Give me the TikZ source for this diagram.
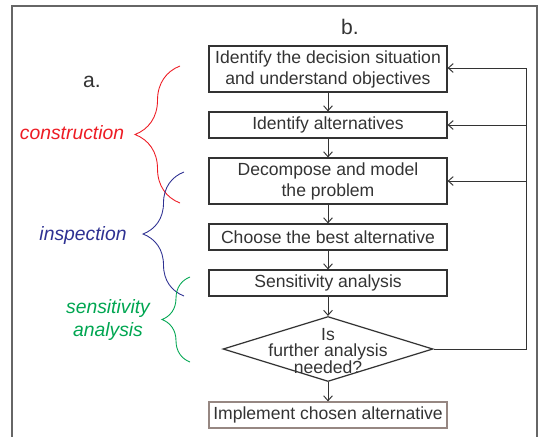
\documentclass[tikz,border=0pt]{standalone}
\usepackage{fontspec}
\setmainfont{Liberation Sans}
\usetikzlibrary{shapes.geometric,arrows.meta,decorations.pathreplacing}
\definecolor{cred}{RGB}{237,28,36}
\definecolor{cblue}{RGB}{46,49,146}
\definecolor{cgreen}{RGB}{0,166,81}
\definecolor{ink}{RGB}{51,51,51}
\definecolor{lastedge}{RGB}{150,135,130}

\begin{document}
\begin{tikzpicture}[x=0.02cm, y=-0.02cm,
    font=\fontsize{10}{12}\selectfont, text=ink,
    >={Straight Barb[length=2.8pt,width=5pt]},
    stepbox/.style={draw=ink, line width=0.7pt, minimum width=4.76cm,
      minimum height=0.52cm, inner sep=1pt, align=center},
    flow/.style={->, draw=ink, line width=0.55pt},
    phase/.style={decorate, line width=0.5pt},
    phasetext/.style={font=\fontsize{11}{13}\selectfont\itshape, align=center}]
      \useasboundingbox (0,0) rectangle (540,436);
      % Frame
      \draw[gray!80!black, line width=0.85pt] (12,440) -- (12,6) -- (537,6) -- (537,440);
      % Steps
      \node[stepbox, minimum height=0.92cm] (decide) at (328,69)
      {Identify the decision situation\\and understand objectives};
      \node[stepbox] (altern) at (328,125) {Identify alternatives};
      \node[stepbox, minimum height=0.92cm] (model) at (328,181)
      {Decompose and model\\the problem};
      \node[stepbox] (choose) at (328,237) {Choose the best alternative};
      \node[stepbox] (sensit) at (328,283) {Sensitivity analysis};
      \node[diamond, draw=ink, line width=0.7pt, inner sep=0pt,
        minimum width=4.2cm, minimum height=1.3cm,
        label={[align=center, font=\fontsize{10}{9.5}\selectfont, yshift=-1pt]center:Is\\further analysis\\needed?}]
      (further) at (328,349) {};
      \node[stepbox, draw=lastedge] (implement) at (328,415)
      {Implement chosen alternative};
      % Arrows down
      \draw[flow] (decide) -- (altern);
      \draw[flow] (altern) -- (model);
      \draw[flow] (model) -- (choose);
      \draw[flow] (choose) -- (sensit);
      \draw[flow] (sensit) -- (further);
      \draw[flow] (further) -- (implement);
      % Loop back
      \coordinate (back) at (526,68);
      \draw[flow] (further.east) -| (back) -- (decide.east |- back);
      \draw[flow] (altern.east -| back) -- (altern.east);
      \draw[flow] (model.east -| back) -- (model.east);
      % Titles
      \node[font=\fontsize{12}{14}\selectfont] (ta) at (92,82) {a.};
      \node[font=\fontsize{12}{14}\selectfont] (tb) at (350,27) {b.};
      % Braces
      \draw[phase, cred, decoration={brace, amplitude=0.9cm}] (180,203) -- (180,66);
      \draw[phase, cblue, decoration={brace, amplitude=0.82cm}] (184,296) -- (184,172);
      \draw[phase, cgreen, decoration={brace, amplitude=0.56cm}] (190,362) -- (190,277);
      \node[phasetext, text=cred] (construct) at (72,133) {construction};
      \node[phasetext, text=cblue] (inspect) at (83,235) {inspection};
      \node[phasetext, text=cgreen] (sensa) at (108,320) {sensitivity\\analysis};
\end{tikzpicture}
\end{document}
